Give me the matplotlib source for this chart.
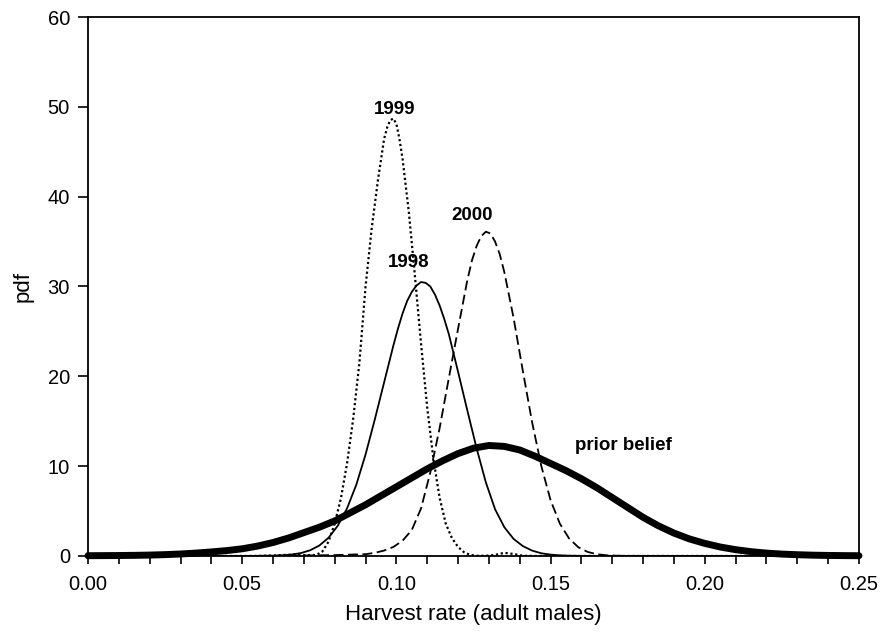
import matplotlib
matplotlib.use("Agg")
import matplotlib.pyplot as plt
from matplotlib.ticker import MultipleLocator, FormatStrFormatter

plt.rcParams['font.family'] = ['Liberation Sans', 'DejaVu Sans']

# prior belief (thick line)
prior_x = [0.000, 0.005, 0.010, 0.015, 0.020, 0.025, 0.030, 0.035, 0.040, 0.045,
           0.050, 0.055, 0.060, 0.065, 0.070, 0.075, 0.080, 0.085, 0.090, 0.095,
           0.100, 0.105, 0.110, 0.115, 0.120, 0.125, 0.130, 0.135, 0.140, 0.145,
           0.150, 0.155, 0.160, 0.165, 0.170, 0.175, 0.180, 0.185, 0.190, 0.195,
           0.200, 0.205, 0.210, 0.215, 0.220, 0.225, 0.230, 0.235, 0.240, 0.245,
           0.250]
prior_y = [0.03, 0.04, 0.05, 0.07, 0.10, 0.15, 0.22, 0.32, 0.45, 0.60,
           0.80, 1.10, 1.50, 2.00, 2.60, 3.20, 3.90, 4.80, 5.70, 6.70,
           7.70, 8.70, 9.70, 10.6, 11.4, 12.0, 12.3, 12.2, 11.8, 11.1,
           10.3, 9.50, 8.60, 7.60, 6.50, 5.40, 4.30, 3.35, 2.55, 1.90,
           1.40, 1.00, 0.70, 0.48, 0.32, 0.21, 0.14, 0.09, 0.06, 0.04,
           0.03]

# 1998 (solid)
y1998_x = [0.000, 0.050, 0.060, 0.063, 0.066, 0.069, 0.072, 0.075, 0.078, 0.081,
           0.084, 0.087, 0.090, 0.093, 0.096, 0.099, 0.1005, 0.102, 0.1035, 0.105,
           0.1065, 0.108, 0.1095, 0.111, 0.1125, 0.114, 0.1155, 0.117, 0.120, 0.123,
           0.126, 0.129, 0.132, 0.135, 0.138, 0.141, 0.144, 0.147, 0.150, 0.153,
           0.156, 0.160, 0.200, 0.250]
y1998_y = [0.0, 0.0, 0.03, 0.07, 0.16, 0.32, 0.63, 1.16, 2.03, 3.37,
           5.30, 7.93, 11.3, 15.2, 19.3, 23.4, 25.3, 27.0, 28.4, 29.4,
           30.1, 30.5, 30.4, 30.0, 29.1, 27.9, 26.4, 24.7, 20.5, 16.2,
           12.0, 8.2, 5.2, 3.2, 1.9, 1.1, 0.6, 0.3, 0.15, 0.07,
           0.03, 0.01, 0.0, 0.0]

# 1999 (dotted)
y1999_x = [0.000, 0.055, 0.060, 0.064, 0.068, 0.071, 0.074, 0.076, 0.078, 0.080,
           0.082, 0.084, 0.086, 0.088, 0.090, 0.092, 0.094, 0.096, 0.097, 0.098,
           0.099, 0.100, 0.101, 0.102, 0.104, 0.106, 0.108, 0.110, 0.112, 0.114,
           0.116, 0.118, 0.120, 0.122, 0.124, 0.126, 0.129, 0.132, 0.135, 0.138,
           0.141, 0.145, 0.250]
y1999_y = [0.0, 0.0, 0.05, 0.12, 0.15, 0.08, 0.10, 0.50, 1.60, 3.60,
           6.40, 10.3, 15.3, 21.5, 30.0, 36.5, 41.8, 46.4, 47.7, 48.5,
           48.7, 48.1, 46.4, 44.2, 38.4, 31.2, 23.6, 16.5, 10.8, 6.5,
           3.6, 2.0, 1.0, 0.4, 0.12, 0.03, 0.02, 0.12, 0.35, 0.22,
           0.03, 0.0, 0.0]

# 2000 (dashed)
y2000_x = [0.000, 0.050, 0.060, 0.070, 0.080, 0.085, 0.090, 0.093, 0.096, 0.099,
           0.102, 0.105, 0.108, 0.111, 0.114, 0.117, 0.120, 0.123, 0.1245, 0.126,
           0.1275, 0.129, 0.1305, 0.132, 0.1335, 0.135, 0.138, 0.141, 0.144, 0.147,
           0.150, 0.153, 0.156, 0.159, 0.162, 0.165, 0.168, 0.171, 0.175, 0.250]
y2000_y = [0.0, 0.0, 0.02, 0.05, 0.10, 0.15, 0.20, 0.35, 0.60, 1.00,
           1.70, 2.90, 5.30, 9.30, 14.2, 19.8, 25.3, 30.7, 32.9, 34.5,
           35.6, 36.1, 35.9, 35.0, 33.6, 31.6, 26.5, 20.6, 14.9, 10.0,
           6.2, 3.6, 1.95, 0.97, 0.45, 0.20, 0.08, 0.03, 0.01, 0.0]

labels = ['1999', '1998', '2000', 'prior belief']
label_x = [0.0995, 0.1039, 0.1244, 0.1736]
label_y = [49.7, 32.7, 37.9, 12.3]

fig = plt.figure(figsize=(8.81, 6.37), dpi=100)
ax = fig.add_axes([0.0999, 0.1272, 0.8751, 0.8461])

ax.plot(y1998_x, y1998_y, color='black', lw=1.3)
ax.plot(y1999_x, y1999_y, color='black', lw=1.6, linestyle=(0, (1, 1.2)))
ax.plot(y2000_x, y2000_y, color='black', lw=1.3, linestyle=(0, (5.5, 2.5)))
ax.plot(prior_x, prior_y, color='black', lw=5, solid_capstyle='round',
        solid_joinstyle='round', clip_on=False, zorder=5)

for t, x, y in zip(labels, label_x, label_y):
    ax.text(x, y, t, ha='center', va='center', fontsize=13.5, fontweight='bold')

ax.set_xlim(0, 0.25)
ax.set_ylim(0, 60)
ax.xaxis.set_major_locator(MultipleLocator(0.05))
ax.xaxis.set_minor_locator(MultipleLocator(0.01))
ax.xaxis.set_major_formatter(FormatStrFormatter('%.2f'))
ax.yaxis.set_major_locator(MultipleLocator(10))
ax.tick_params(axis='both', which='both', direction='out', width=1.2,
               labelsize=14.5, color='black')
ax.tick_params(axis='x', which='both', length=6, pad=8)
ax.tick_params(axis='y', which='major', length=7, pad=6)
ax.tick_params(top=False, right=False)
for s in ax.spines.values():
    s.set_linewidth(1.3)

ax.set_xlabel('Harvest rate (adult males)', fontsize=16, labelpad=7)
ax.set_ylabel('pdf', fontsize=16, labelpad=10)

fig.savefig('out.png', dpi=100)
